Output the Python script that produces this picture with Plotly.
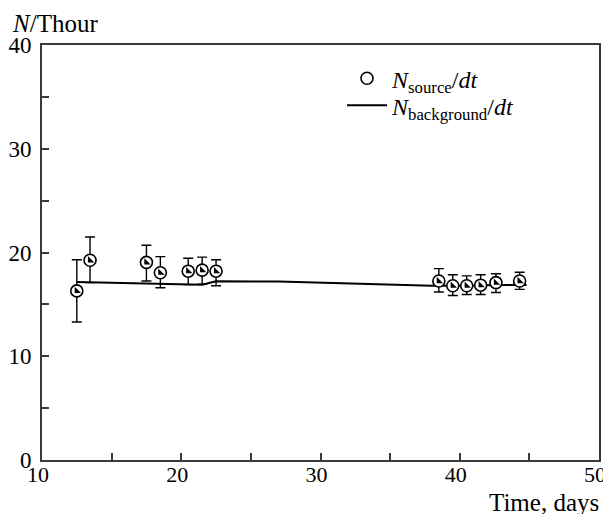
import plotly.graph_objects as go

# Source count rate points (time in days, N per hour) with error bar ends
t_src = [12.5, 13.45, 17.5, 18.5, 20.5, 21.5, 22.5, 38.5, 39.5, 40.5, 41.5, 42.6, 44.3]
n_src = [16.3, 19.25, 19.05, 18.05, 18.2, 18.3, 18.2, 17.25, 16.8, 16.8, 16.85, 17.1, 17.25]
n_hi = [19.3, 21.5, 20.7, 19.6, 19.45, 19.55, 19.3, 18.45, 17.85, 17.75, 17.85, 17.95, 18.1]
n_lo = [13.3, 17.1, 17.25, 16.6, 16.9, 16.95, 16.8, 16.2, 15.85, 15.95, 15.95, 16.15, 16.45]

# Background rate line
t_bkg = [12.5, 13.45, 17.5, 18.5, 20.5, 21.5, 22.5, 27.0, 38.0, 39.5, 40.5, 41.5, 42.6, 44.8]
n_bkg = [17.15, 17.12, 17.03, 16.96, 16.87, 16.9, 17.22, 17.2, 16.8, 16.78, 16.8, 16.85, 16.86, 16.86]

err_plus = [h - v for h, v in zip(n_hi, n_src)]
err_minus = [v - l for v, l in zip(n_src, n_lo)]

FONT = "Liberation Serif"
AX = "#3a3a3a"
FS = 25
TFS = 23

fig = go.Figure()

fig.add_trace(go.Scatter(
    x=t_bkg, y=n_bkg, mode="lines",
    line=dict(color="black", width=2),
    name="<i>N</i><sub>background</sub>/<i>dt</i>",
    legend="legend2",
))

fig.add_trace(go.Scatter(
    x=t_src, y=n_src, mode="markers",
    marker=dict(symbol="circle", size=12, color="white",
                line=dict(color="black", width=1.6)),
    error_y=dict(type="data", symmetric=False, array=err_plus, arrayminus=err_minus,
                 color="black", thickness=1.4, width=5),
    name="<i>N</i><sub>source</sub>/<i>dt</i>",
    legend="legend",
))

fig.add_trace(go.Scatter(
    x=t_src, y=n_src, mode="markers",
    marker=dict(symbol="triangle-sw", size=7, color="black", line=dict(width=0)),
    showlegend=False, hoverinfo="skip",
))

leg_common = dict(xanchor="left", yanchor="middle", bgcolor="rgba(0,0,0,0)",
                  font=dict(family=FONT, size=24), itemwidth=40)

# page body has an 8px margin, so the figure is smaller and margins shifted
fig.update_layout(
    width=603, height=506,
    margin=dict(l=34, r=12, t=37, b=54),
    paper_bgcolor="white", plot_bgcolor="white",
    font=dict(family=FONT, size=FS, color="black"),
    showlegend=True,
    legend=dict(x=0.5386, y=0.919, **leg_common),
    legend2=dict(x=0.5386, y=0.854, **leg_common),
    xaxis=dict(range=[10, 50], tickvals=[10, 15, 20, 25, 30, 35, 40, 45, 50],
               ticktext=["10", "", "20", "", "30", "", "40", "", "50"],
               ticks="inside", ticklen=7, tickwidth=1.5, tickcolor=AX,
               showline=True, linecolor=AX, linewidth=2, mirror=True,
               showgrid=False, zeroline=False, ticklabelstandoff=-6, automargin=False,
               ticklabeloverflow="allow", ticklabelshift=-4,
               tickfont=dict(family=FONT, size=22)),
    yaxis=dict(range=[0, 40], tickvals=[0, 5, 10, 15, 20, 25, 30, 35, 40],
               ticktext=["0", "", "10", "", "20", "", "30", "", "40"],
               ticks="inside", ticklen=7, tickwidth=1.5, tickcolor=AX,
               showline=True, linecolor=AX, linewidth=2, mirror=True,
               showgrid=False, zeroline=False, ticklabelstandoff=4, automargin=False,
               ticklabeloverflow="allow",
               tickfont=dict(family=FONT, size=TFS)),
    annotations=[
        dict(text="<i>N</i>/Thour", xref="paper", yref="paper", x=0, y=1,
             xanchor="left", yanchor="top", xshift=-32, yshift=37,
             showarrow=False, font=dict(family=FONT, size=FS)),
        dict(text="Time, days", xref="paper", yref="paper", x=1, y=0,
             xanchor="right", yanchor="middle", xshift=2, yshift=-42,
             showarrow=False, font=dict(family=FONT, size=FS)),
    ],
)

fig.write_html("out.html")
